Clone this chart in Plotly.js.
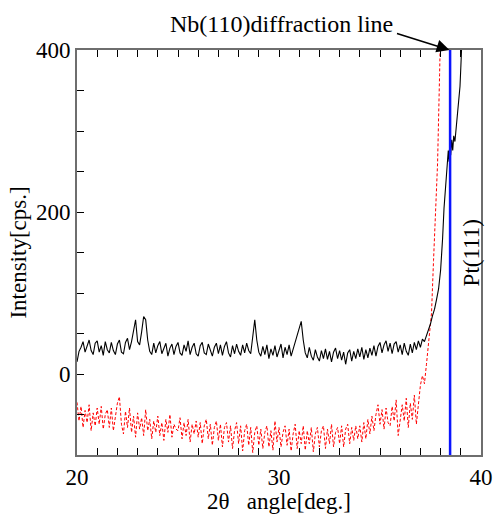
<!DOCTYPE html>
<html>
<head>
<meta charset="utf-8">
<script src="https://cdn.plot.ly/plotly-3.0.1.min.js"></script>
<style>html,body{margin:0;padding:0;background:#fff;}</style>
</head>
<body>
<div id="chart" style="width:495px;height:514px;"></div>
<script>
// Baseline scan grid: 20.0 .. 37.2 deg in 0.1 deg steps
const scanStart = 20.0;
const scanStep = 0.1;

// Black (solid) series, baseline region 20.0-37.2 deg
const blackBase = [
  15, 28, 33, 40, 27, 36, 42, 29, 24, 38,
  41, 27, 35, 23, 40, 30, 26, 39, 29, 24,
  37, 42, 27, 25, 39, 44, 30, 40, 54, 67,
  40, 36, 52, 71, 67, 42, 28, 24, 38, 26,
  35, 40, 25, 33, 38, 22, 32, 37, 24, 34,
  39, 26, 23, 36, 28, 41, 24, 33, 38, 25,
  22, 35, 39, 26, 24, 37, 29, 22, 33, 38,
  25, 36, 23, 34, 40, 26, 21, 35, 25, 37,
  28, 23, 36, 26, 38, 29, 25, 49, 67, 42,
  27, 22, 34, 24, 36, 19, 31, 23, 35, 21,
  30, 37, 20, 33, 24, 36, 22, 31, 38, 47,
  59, 65, 42, 26, 20, 33, 22, 17, 30, 21,
  16, 29, 19, 31, 18, 28, 15, 27, 32, 19,
  29, 17, 27, 12, 26, 30, 16, 28, 19, 31,
  21, 33, 18, 30, 20, 32, 23, 35, 22, 34,
  39, 26, 36, 41, 28, 38, 25, 37, 40, 27,
  36, 24, 38, 28, 23, 37, 26, 39, 30, 41,
  33, 43, 40
];
// Black series, steep rise toward Pt(111)
const blackRiseX = [37.3, 37.4, 37.5, 37.6, 37.7, 37.8, 37.9, 38.0, 38.05, 38.1, 38.17, 38.25, 38.3, 38.38, 38.42, 38.46, 38.5, 38.55, 38.6, 38.65, 38.71, 38.8, 38.88, 38.96, 39.0, 39.04, 39.1];
const blackRiseY = [47, 54, 62, 72, 80, 92, 105, 128, 144, 168, 205, 232, 246, 276, 262, 292, 270, 289, 276, 294, 287, 310, 328, 355, 378, 400, 440];

// Red (dashed) series, baseline region 20.0-37.2 deg
const redBase = [
  -35, -58, -40, -66, -45, -60, -38, -70, -48, -64,
  -42, -62, -40, -68, -50, -44, -66, -42, -70, -50,
  -36, -28, -62, -74, -46, -66, -42, -72, -52, -78,
  -48, -68, -54, -76, -44, -70, -56, -80, -58, -72,
  -52, -76, -60, -82, -56, -72, -50, -78, -62, -68,
  -70, -54, -80, -60, -76, -56, -84, -62, -74, -58,
  -78, -60, -86, -64, -56, -80, -62, -88, -66, -58,
  -82, -62, -90, -66, -60, -84, -64, -92, -70, -60,
  -86, -64, -95, -70, -62, -88, -66, -97, -72, -64,
  -88, -68, -92, -72, -64, -90, -70, -94, -58, -84,
  -66, -90, -72, -64, -88, -68, -95, -74, -62, -92,
  -70, -86, -64, -94, -70, -86, -66, -96, -74, -66,
  -90, -70, -64, -92, -68, -86, -62, -90, -72, -66,
  -86, -64, -90, -68, -62, -86, -66, -82, -64, -80,
  -64, -84, -60, -80, -56, -74, -52, -70, -50, -38,
  -62, -44, -68, -42, -60, -64, -40, -58, -32, -76,
  -60, -38, -58, -30, -66, -36, -56, -26, -62, -36,
  -14, -2, -12
];
// Red series, steep rise toward Nb(110)
const redRiseX = [37.3, 37.4, 37.5, 37.55, 37.65, 37.75, 37.85, 37.95, 38.0];
const redRiseY = [12, 35, 62, 75, 140, 195, 260, 370, 430];

// Nb(110) diffraction line marker
const nbLineX = [38.47, 38.47];
const nbLineY = [-100, 400];

const baseX = blackBase.map((_, i) => +(scanStart + i * scanStep).toFixed(2));

const serif = 'Liberation Serif, Times New Roman, serif';

const traces = [
  {
    x: baseX.concat(redRiseX), y: redBase.concat(redRiseY),
    type: 'scatter', mode: 'lines',
    line: {color: '#ff0000', width: 1, dash: '3px,2px'},
    hoverinfo: 'skip'
  },
  {
    x: baseX.concat(blackRiseX), y: blackBase.concat(blackRiseY),
    type: 'scatter', mode: 'lines',
    line: {color: '#000000', width: 1.1},
    hoverinfo: 'skip'
  },
  {
    x: nbLineX, y: nbLineY,
    type: 'scatter', mode: 'lines',
    line: {color: '#0a14ff', width: 2.5},
    hoverinfo: 'skip'
  }
];

const layout = {
  width: 495, height: 514,
  margin: {l: 77, r: 14, t: 50, b: 59},
  paper_bgcolor: '#ffffff', plot_bgcolor: '#ffffff',
  showlegend: false,
  font: {family: serif, size: 23, color: '#000'},
  xaxis: {
    range: [20, 40], tick0: 20, dtick: 10,
    ticks: 'inside', ticklen: 7, tickwidth: 1, tickcolor: '#000',
    minor: {dtick: 1, ticks: 'inside', ticklen: 7, tickwidth: 1, tickcolor: '#000'},
    showline: true, linecolor: '#6e6e6e', linewidth: 2, mirror: 'ticks',
    showgrid: false, zeroline: false,
    tickfont: {family: serif, size: 23, color: '#000'},
    title: {text: '2θ\u00a0\u00a0\u00a0angle[deg.]', font: {family: serif, size: 23, color: '#000'}, standoff: 6}
  },
  yaxis: {
    range: [-100, 400], tick0: 0, dtick: 200,
    ticks: 'inside', ticklen: 7, tickwidth: 1, tickcolor: '#000',
    minor: {dtick: 50, ticks: 'inside', ticklen: 7, tickwidth: 1, tickcolor: '#000'},
    showline: true, linecolor: '#6e6e6e', linewidth: 2, mirror: true,
    showgrid: false, zeroline: false,
    tickfont: {family: serif, size: 23, color: '#000'},
    title: {text: 'Intensity[cps.]', font: {family: serif, size: 23, color: '#000'}, standoff: 3}
  },
  annotations: [
    {
      xref: 'paper', yref: 'paper', x: 0.787, y: 1.064,
      text: 'Nb(110)diffraction line', showarrow: false,
      font: {family: serif, size: 24, color: '#000'},
      xanchor: 'right', yanchor: 'middle'
    },
    {
      xref: 'x', yref: 'y', x: 38.44, y: 400,
      text: '', showarrow: true, arrowhead: 2, arrowsize: 1.6, arrowwidth: 1.6,
      arrowcolor: '#000', ax: -54, ay: -17
    },
    {
      xref: 'x', yref: 'y', x: 39.55, y: 150,
      text: 'Pt(111)', showarrow: false, textangle: -90,
      font: {family: serif, size: 23, color: '#000'},
      xanchor: 'center', yanchor: 'middle'
    }
  ]
};

Plotly.newPlot('chart', traces, layout, {displayModeBar: false, staticPlot: true});
</script>
</body>
</html>
